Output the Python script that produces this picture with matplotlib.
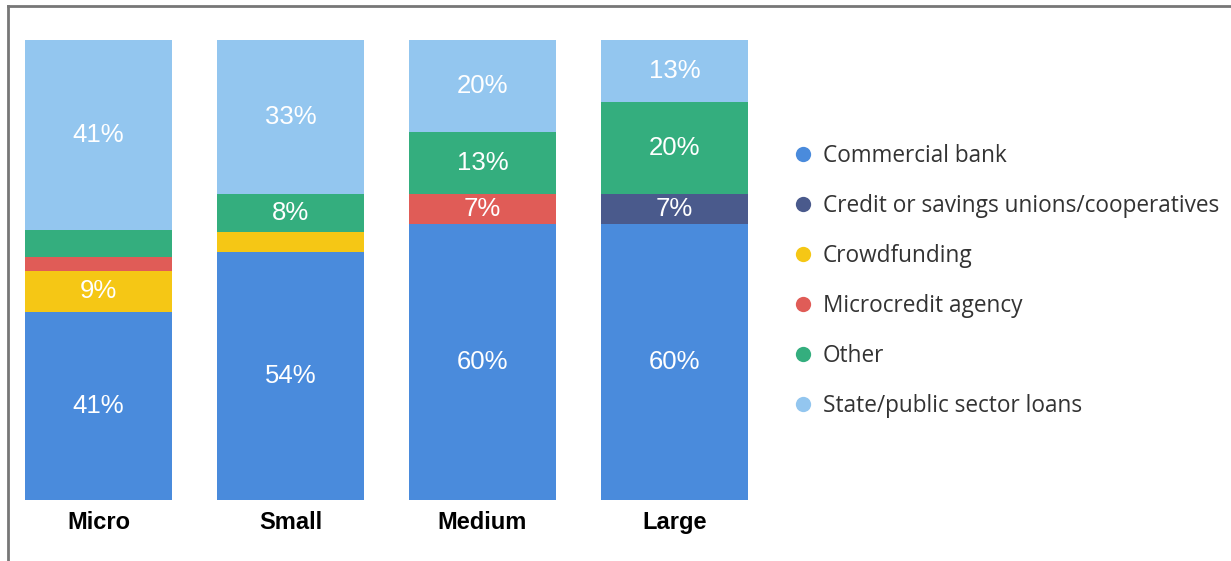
import matplotlib.pyplot as plt
from matplotlib.lines import Line2D

# data (% of firms)
categories = ["Micro", "Small", "Medium", "Large"]
sources = ["Commercial bank", "Credit or savings unions/cooperatives", "Crowdfunding",
           "Microcredit agency", "Other", "State/public sector loans"]
commercial_bank = [40.9, 53.9, 60.0, 60.0]
credit_unions = [0.0, 0.0, 0.0, 6.6]
crowdfunding = [8.9, 4.4, 0.0, 0.0]
microcredit = [3.0, 0.0, 6.6, 0.0]
other = [5.9, 8.3, 13.3, 20.0]
state_loans = [41.3, 33.4, 20.1, 13.4]

colors = ["#4A8BDC", "#4A5A8C", "#F5C715", "#E05C57", "#34AE7E", "#93C6EF"]
series = [commercial_bank, credit_unions, crowdfunding, microcredit, other, state_loans]

W, H = 1231, 561
fig = plt.figure(figsize=(W / 100, H / 100), dpi=100)
bar_w = 0.766
ax = fig.add_axes([25 / W, (H - 500) / H, (748 - 25) / W, 460 / H])

x = range(len(categories))
bottom = [0.0] * len(categories)
for vals, col in zip(series, colors):
    ax.bar(x, vals, bottom=bottom, width=bar_w, color=col, edgecolor="none")
    for i, v in enumerate(vals):
        # small segments have no label in the original
        if v >= 6.5:
            ax.text(i, bottom[i] + v / 2, f"{v:.0f}%", ha="center", va="center",
                    color="white", fontsize=18.5, family="Liberation Sans")
    bottom = [b + v for b, v in zip(bottom, vals)]

ax.set_xlim(-bar_w / 2, 3 + bar_w / 2)
ax.set_ylim(0, 100)
ax.set_xticks(list(x))
ax.set_xticklabels(categories, fontsize=17, fontweight="bold", family="Liberation Sans")
ax.tick_params(axis="x", length=0, pad=8)
ax.set_yticks([])
for s in ax.spines.values():
    s.set_visible(False)

handles = [Line2D([], [], marker="o", linestyle="none", markersize=11,
                  markerfacecolor=c, markeredgecolor="none") for c in colors]
fig.legend(handles, sources, loc="center left", bbox_to_anchor=(771 / W, 1 - 281 / H),
           frameon=False, handlelength=1.0, handletextpad=0.4, labelspacing=1.155,
           prop={"family": "Open Sans", "size": 16.3}, labelcolor="#333333")

# frame around the picture (top and left edges visible)
fig.add_artist(Line2D([8 / W, 1], [1 - 6 / H, 1 - 6 / H], color="#777777", lw=2))
fig.add_artist(Line2D([8 / W, 8 / W], [0, 1 - 6 / H], color="#777777", lw=2))

fig.savefig("out.png", dpi=100, facecolor="white")
